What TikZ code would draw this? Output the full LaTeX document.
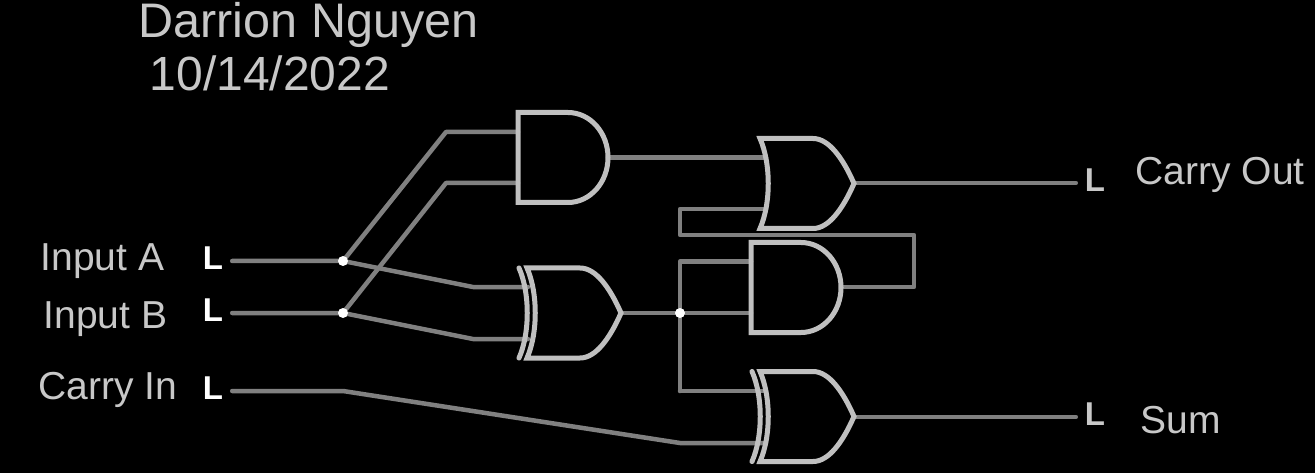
\documentclass[tikz,border=0pt]{standalone}
\usepackage{fontspec}
\setmainfont{Liberation Sans}
\usepackage{tikz}
\definecolor{wiregray}{HTML}{808080}
\definecolor{gategray}{HTML}{C0C0C0}
\definecolor{textgray}{HTML}{C8C8C8}
\tikzset{%
    vtx/.style={inner sep=0pt,minimum size=10pt,circle,fill=white},
    wire/.style={wiregray,line width=4.5pt,line join=round,line cap=round},
    gateline/.style={gategray,line width=5pt,line join=miter},
    pin/.style={font=\fontsize{33}{33}\selectfont\bfseries,inner sep=0pt,minimum width=38pt,text height=23pt,text depth=6pt},
    caption/.style={textgray,font=\fontsize{39}{39}\selectfont,inner sep=0pt,anchor=base west},
    title/.style={textgray,font=\fontsize{48.5}{48.5}\selectfont,inner sep=0pt,anchor=base west},
    andgate/.pic={
        \draw[gateline] (0,-45) -- (50,-45) .. controls (72,-45) and (90,-25) .. (90,0)
            .. controls (90,25) and (72,45) .. (50,45) -- (0,45) -- cycle;
    },
    orgate/.pic={
        \draw[gateline] (0,-45) -- (53,-45) .. controls (69,-45) and (83,-25) .. (94,0)
            .. controls (83,25) and (69,45) .. (53,45) -- (0,45)
            .. controls (11,20) and (11,-20) .. (0,-45) -- cycle;
    },
    xorgate/.pic={
        \pic {orgate};
        \draw[gateline,line cap=round] (-8,-45) .. controls (3,-20) and (3,20) .. (-8,45);
    }
}

\begin{document}
\begin{tikzpicture}[x=1pt,y=-1pt]
        \fill[black] (0,0) rectangle (1315,473);
        \useasboundingbox (0,0) rectangle (1315,473);

        \node[title] (name) at (138.5,38) {Darrion Nguyen};
        \node[title,font=\fontsize{48}{48}\selectfont] (date) at (149.5,91) {10/14/2022};

        \node[caption] (capA) at (40.5,271) {Input A};
        \node[caption] (capB) at (43.5,328) {Input B};
        \node[caption] (capC) at (38.5,399) {Carry In};
        \node[caption] (capOut) at (1135.5,185) {Carry Out};
        \node[caption] (capSum) at (1140.5,433) {Sum};

        \node[pin,white] (pinA) at (213,261) {L};
        \node[pin,white] (pinB) at (213,313) {L};
        \node[pin,white] (pinC) at (213,391) {L};
        \node[pin,textgray] (pinOut) at (1095,183) {L};
        \node[pin,textgray] (pinSum) at (1095,417) {L};

        \coordinate (and1a) at (518,132);
        \coordinate (and1b) at (518,183);
        \coordinate (and1y) at (608,157.5);
        \coordinate (xor1a) at (528,287);
        \coordinate (xor1b) at (528,339);
        \coordinate (xor1y) at (620,313);
        \coordinate (or1a) at (766,157.5);
        \coordinate (or1b) at (766,209);
        \coordinate (or1y) at (854,183);
        \coordinate (and2a) at (751,261.5);
        \coordinate (and2b) at (751,313);
        \coordinate (and2y) at (842,287);
        \coordinate (xor2a) at (766,391);
        \coordinate (xor2b) at (766,443);
        \coordinate (xor2y) at (854,417);

        \draw[wire] (pinA) -- (343,261) -- (446,132) -- (and1a);
        \draw[wire] (pinB) -- (343,313) -- (446,183) -- (and1b);
        \draw[wire] (343,261) -- (473,287) -- (xor1a);
        \draw[wire] (343,313) -- (473,339) -- (xor1b);
        \draw[wire] (pinC) -- (343,391) -- (680,443) -- (xor2b);

        \draw[wire] (and1y) -- (or1a);
        \draw[wire] (xor1y) -- (and2b);
        \draw[wire] (680,391) -- (680,261.5) -- (and2a);
        \draw[wire] (680,391) -- (xor2a);
        \draw[wire] (and2y) -- (914,287) -- (914,235) -- (680,235) -- (680,209) -- (or1b);
        \draw[wire] (or1y) -- (pinOut);
        \draw[wire] (xor2y) -- (pinSum);

        \node[vtx] (jctA) at (343,261) {};
        \node[vtx] (jctB) at (343,313) {};
        \node[vtx] (jctS) at (680,313) {};

        \pic at (518,157.5) {andgate};
        \pic at (527,313) {xorgate};
        \pic at (760,183.5) {orgate};
        \pic at (751,287.5) {andgate};
        \pic at (760,416.5) {xorgate};
\end{tikzpicture}
\end{document}
